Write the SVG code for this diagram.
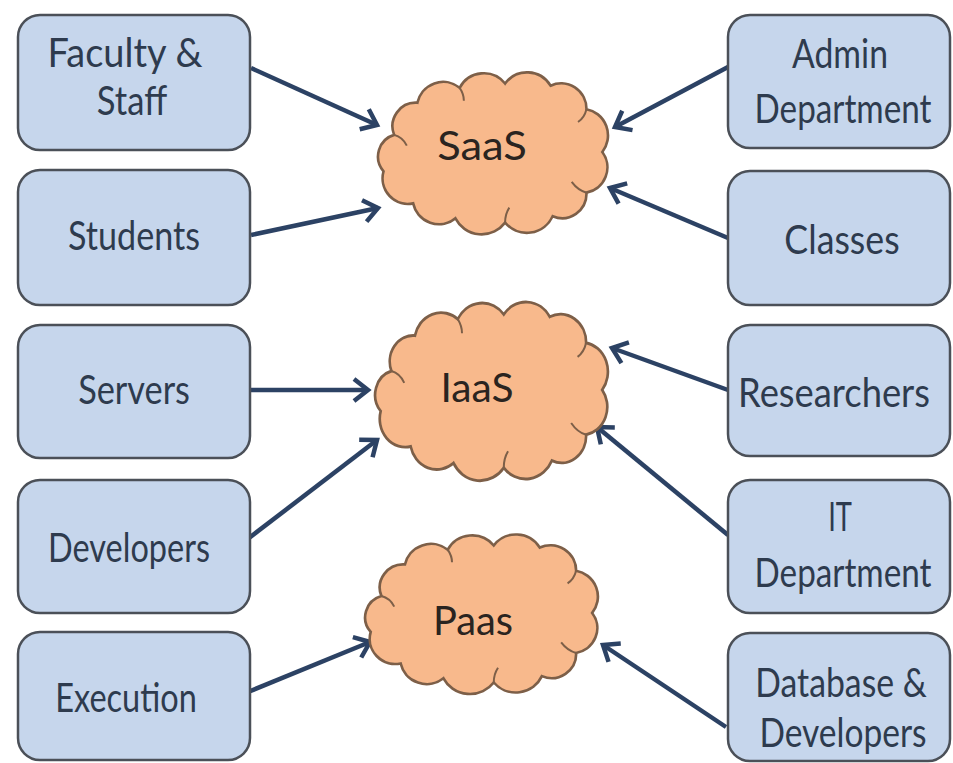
<svg xmlns="http://www.w3.org/2000/svg" width="953" height="763" viewBox="0 0 953 763">
<defs>
<style>
.box{fill:#c6d6ec;stroke:#4b5058;stroke-width:2.5}
.bt{font-family:Lato,"Open Sans",sans-serif;font-size:40px;fill:#2e3b4e;text-anchor:middle}
.cloud{fill:#f8b98c;stroke:#7d5f48;stroke-width:2.5}
.ct{font-family:Lato,"Open Sans",sans-serif;font-size:40px;fill:#2a2420;text-anchor:middle}
.inner{fill:none;stroke:#7d5f48;stroke-width:2}
.arr{stroke:#2c4264;stroke-width:4.5;fill:none;marker-end:url(#ah)}
</style>
<marker id="ah" markerUnits="userSpaceOnUse" markerWidth="30" markerHeight="30" refX="0" refY="0" viewBox="-20 -15 30 30" orient="auto" overflow="visible">
<path d="M-14,-11 L0,0 L-14,11" fill="none" stroke="#2c4264" stroke-width="4.5" stroke-linejoin="miter"/>
</marker>
<path id="cloudshape" d="M30,64 A22,22 0 0 1 52,34 A25,25 0 0 1 92,20 A26,26 0 0 1 135,16 A26,26 0 0 1 178,18 A24,24 0 0 1 212,40 A25,25 0 0 1 227,80 A24,24 0 0 1 212,118 A23,23 0 0 1 180,140 A27,27 0 0 1 135,146 A28,28 0 0 1 88,142 A25,25 0 0 1 48,128 A24,24 0 0 1 20,98 A21,21 0 0 1 30,64 Z"/>
</defs>

<g id="connectors">
<line class="arr" x1="251" y1="68" x2="377" y2="125"/>
<line class="arr" x1="251" y1="235" x2="378" y2="208"/>
<line class="arr" x1="251" y1="390" x2="368" y2="390"/>
<line class="arr" x1="249" y1="538" x2="377" y2="440"/>
<line class="arr" x1="248" y1="692" x2="370" y2="642"/>
<line class="arr" x1="728" y1="67" x2="615" y2="127"/>
<line class="arr" x1="728" y1="238" x2="610" y2="188"/>
<line class="arr" x1="728" y1="390" x2="612" y2="348"/>
<line class="arr" x1="728" y1="535" x2="597" y2="427"/>
<line class="arr" x1="726" y1="727" x2="603" y2="645"/>
</g>

<g id="saas">
<g transform="translate(362.4,66.4) scale(1.057,1.07)">
<use href="#cloudshape" class="cloud" vector-effect="non-scaling-stroke"/>
<path class="inner" d="M30,64 q8,2 12,10 M92,20 q4,6 4,12 M212,40 q-2,8 -8,12 M212,118 q-8,-2 -14,-10 M135,146 q0,-8 4,-14" vector-effect="non-scaling-stroke"/>
</g>
<text class="ct" transform="translate(482,160) scale(0.88,1)" textLength="102" lengthAdjust="spacingAndGlyphs">SaaS</text>
</g>

<g id="iaas">
<g transform="translate(359.3,295.5) scale(1.07,1.18)">
<use href="#cloudshape" class="cloud" vector-effect="non-scaling-stroke"/>
<path class="inner" d="M30,64 q8,2 12,10 M92,20 q4,6 4,12 M212,40 q-2,8 -8,12 M212,118 q-8,-2 -14,-10 M135,146 q0,-8 4,-14" vector-effect="non-scaling-stroke"/>
</g>
<text class="ct" transform="translate(477,402) scale(0.88,1)" textLength="83" lengthAdjust="spacingAndGlyphs">IaaS</text>
</g>

<g id="paas">
<g transform="translate(349.3,528.6) scale(1.07,1.054)">
<use href="#cloudshape" class="cloud" vector-effect="non-scaling-stroke"/>
<path class="inner" d="M30,64 q8,2 12,10 M92,20 q4,6 4,12 M212,40 q-2,8 -8,12 M212,118 q-8,-2 -14,-10 M135,146 q0,-8 4,-14" vector-effect="non-scaling-stroke"/>
</g>
<text class="ct" transform="translate(473,635) scale(0.88,1)" textLength="91" lengthAdjust="spacingAndGlyphs">Paas</text>
</g>

<g id="faculty">
<rect class="box" x="18" y="15" width="232" height="135" rx="22"/>
<text class="bt" transform="translate(125,67) scale(0.88,1)" textLength="176" lengthAdjust="spacingAndGlyphs">Faculty &amp;</text>
<text class="bt" transform="translate(132,115) scale(0.88,1)" textLength="80" lengthAdjust="spacingAndGlyphs">Staff</text>
</g>
<g id="students">
<rect class="box" x="18" y="170" width="232" height="135" rx="22"/>
<text class="bt" transform="translate(134,250) scale(0.88,1)" textLength="150" lengthAdjust="spacingAndGlyphs">Students</text>
</g>
<g id="servers">
<rect class="box" x="18" y="325" width="232" height="133" rx="22"/>
<text class="bt" transform="translate(134,404) scale(0.88,1)" textLength="127" lengthAdjust="spacingAndGlyphs">Servers</text>
</g>
<g id="developers">
<rect class="box" x="18" y="480" width="232" height="133" rx="22"/>
<text class="bt" transform="translate(129,562) scale(0.88,1)" textLength="184" lengthAdjust="spacingAndGlyphs">Developers</text>
</g>
<g id="execution">
<rect class="box" x="18" y="632" width="232" height="128" rx="22"/>
<text class="bt" transform="translate(126,712) scale(0.88,1)" textLength="161" lengthAdjust="spacingAndGlyphs">Execution</text>
</g>

<g id="admin">
<rect class="box" x="728" y="15" width="222" height="133" rx="22"/>
<text class="bt" transform="translate(840,68) scale(0.88,1)" textLength="109" lengthAdjust="spacingAndGlyphs">Admin</text>
<text class="bt" transform="translate(843,123) scale(0.88,1)" textLength="201" lengthAdjust="spacingAndGlyphs">Department</text>
</g>
<g id="classes">
<rect class="box" x="728" y="171" width="222" height="134" rx="22"/>
<text class="bt" transform="translate(842,254) scale(0.88,1)" textLength="131" lengthAdjust="spacingAndGlyphs">Classes</text>
</g>
<g id="researchers">
<rect class="box" x="728" y="325" width="222" height="131" rx="22"/>
<text class="bt" transform="translate(834,407) scale(0.88,1)" textLength="218" lengthAdjust="spacingAndGlyphs">Researchers</text>
</g>
<g id="it">
<rect class="box" x="728" y="480" width="222" height="133" rx="22"/>
<text class="bt" transform="translate(840,531) scale(0.88,1)" textLength="27" lengthAdjust="spacingAndGlyphs">IT</text>
<text class="bt" transform="translate(843,587) scale(0.88,1)" textLength="201" lengthAdjust="spacingAndGlyphs">Department</text>
</g>
<g id="database">
<rect class="box" x="728" y="633" width="222" height="128" rx="22"/>
<text class="bt" transform="translate(841,697) scale(0.88,1)" textLength="195" lengthAdjust="spacingAndGlyphs">Database &amp;</text>
<text class="bt" transform="translate(843,747) scale(0.88,1)" textLength="190" lengthAdjust="spacingAndGlyphs">Developers</text>
</g>
</svg>
